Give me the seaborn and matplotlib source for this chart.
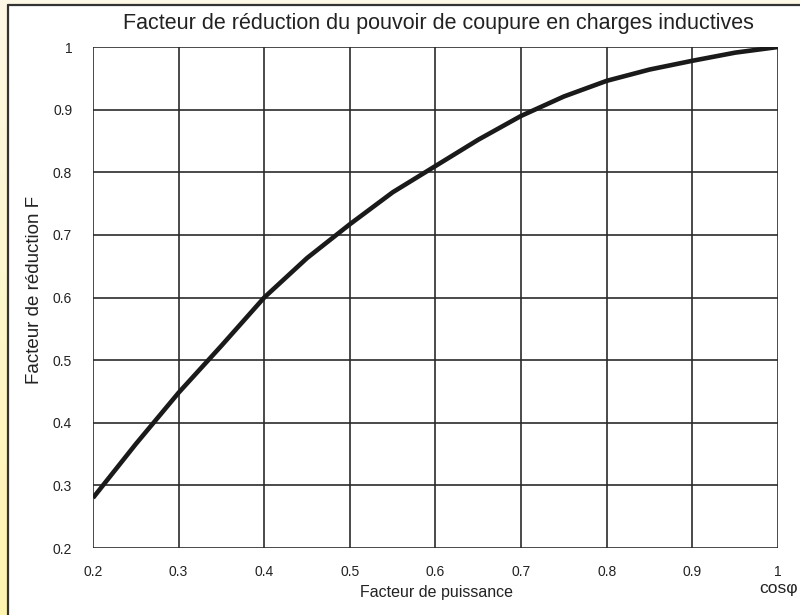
import numpy as np
import pandas as pd
import matplotlib
matplotlib.use("Agg")
import matplotlib.pyplot as plt
import seaborn as sns
from matplotlib.patches import Rectangle
from matplotlib.lines import Line2D

# ---------------------------
# Données
# ---------------------------

cos_phi = [0.20, 0.25, 0.30, 0.35, 0.40, 0.45, 0.50, 0.55, 0.60,
           0.65, 0.70, 0.75, 0.80, 0.85, 0.90, 0.95, 1.00]
facteur_f = [0.280, 0.366, 0.448, 0.523, 0.600, 0.663, 0.717, 0.768, 0.810,
             0.852, 0.890, 0.921, 0.946, 0.964, 0.978, 0.991, 1.000]

x_ticks = [0.2, 0.3, 0.4, 0.5, 0.6, 0.7, 0.8, 0.9, 1.0]
x_labels = ["0.2", "0.3", "0.4", "0.5", "0.6", "0.7", "0.8", "0.9", "1"]
y_ticks = [0.2, 0.3, 0.4, 0.5, 0.6, 0.7, 0.8, 0.9, 1.0]
y_labels = ["0.2", "0.3", "0.4", "0.5", "0.6", "0.7", "0.8", "0.9", "1"]

df = pd.DataFrame({"cos": cos_phi, "F": facteur_f})

sns.set_style("white")
plt.rcParams["font.family"] = ["Liberation Sans", "DejaVu Sans"]

fig = plt.figure(figsize=(8, 6.15), dpi=100)
fig.patch.set_facecolor("#fdf9e6")

# fond : bande jaune à gauche, panneau blanc encadré
W, H = 800, 615
bg = fig.add_axes([0, 0, 1, 1])
bg.set_xlim(0, W)
bg.set_ylim(H, 0)
bg.axis("off")
grad = np.linspace(0, 1, 200).reshape(-1, 1)
cmap = matplotlib.colors.LinearSegmentedColormap.from_list(
    "jaune", ["#fdf8e6", "#fff4b0"])
bg.imshow(grad, extent=[0, 8, H, 0], cmap=cmap, aspect="auto")
bg.add_patch(Rectangle((8, 5), W, H, facecolor="white", edgecolor="none"))
bg.add_line(Line2D([8, 8], [5, H], color="#333333", lw=1.6))
bg.add_line(Line2D([8, W], [5, 5], color="#333333", lw=1.6))

ax = fig.add_axes([93 / W, 1 - 548 / H, (778 - 93) / W, (548 - 47) / H])
ax.set_facecolor("none")

sns.lineplot(data=df, x="cos", y="F", ax=ax, color="#1a1a1a",
             linewidth=3.3, zorder=3, solid_joinstyle="round",
             solid_capstyle="butt")

ax.set_xlim(0.2, 1.0)
ax.set_ylim(0.2, 1.0)
ax.set_xticks(x_ticks)
ax.set_xticklabels(x_labels)
ax.set_yticks(y_ticks)
ax.set_yticklabels(y_labels)
ax.grid(True, color="#2b2b2b", linewidth=1.2)
for s in ax.spines.values():
    s.set_visible(False)
ax.tick_params(axis="x", length=5, width=1.2, color="#2b2b2b",
               pad=7, labelsize=10, labelcolor="#222222")
ax.tick_params(axis="y", length=0, pad=15, labelsize=10,
               labelcolor="#222222")

ax.set_xlabel("")
ax.set_ylabel("")
fig.text(437 / W, 1 - 592 / H, "Facteur de puissance", ha="center",
         va="center", fontsize=11.5, color="#222222")
fig.text(35 / W, 1 - 290 / H, "Facteur de réduction F", ha="center",
         va="center", rotation=90, fontsize=13.5, color="#222222")
fig.text(779 / W, 1 - 589 / H, "cosφ", ha="center", va="center",
         fontsize=12.5, color="#222222")
fig.text(438 / W, 1 - 24 / H,
         "Facteur de réduction du pouvoir de coupure en charges inductives",
         ha="center", va="center", fontsize=15.5, color="#222222")

fig.savefig("out.png", dpi=100)
